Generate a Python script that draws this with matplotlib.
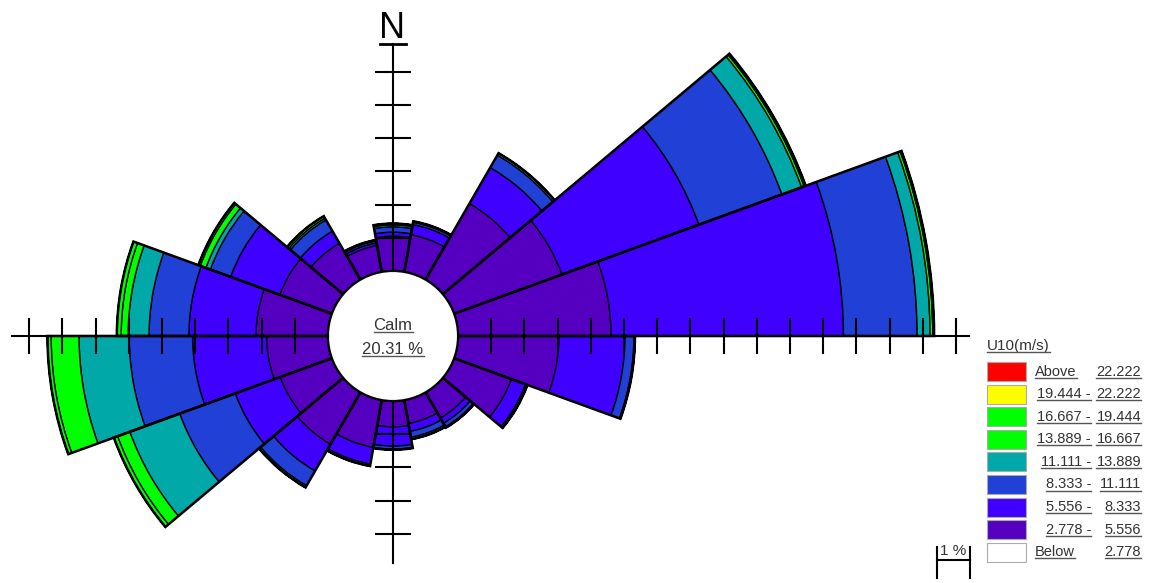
import numpy as np
import matplotlib
matplotlib.use("Agg")
from matplotlib import pyplot as plt
from matplotlib.patches import Circle, Rectangle
from matplotlib.lines import Line2D
from matplotlib.transforms import IdentityTransform

plt.rcParams['font.family'] = ['Liberation Sans', 'DejaVu Sans']

# sector centres (compass degrees), each sector 20 deg wide
directions = [0, 20, 40, 60, 80, 100, 120, 140, 160, 180,
              200, 220, 240, 260, 280, 300, 320, 340]

# frequency (%) per speed class, one value per direction
spd_2_5 = [1.05, 1.14, 2.65, 3.46, 4.61, 3.04, 1.84, 0.90, 0.72,
           0.78, 1.45, 1.81, 1.66, 1.85, 2.17, 1.67, 1.27, 0.81]
spd_5_8 = [0.12, 0.31, 1.25, 4.39, 7.00, 1.99, 0.45, 0.18, 0.24,
           0.58, 0.51, 0.93, 1.44, 2.23, 2.02, 1.58, 0.42, 0.08]
spd_8_11 = [0.16, 0.07, 0.43, 2.66, 2.22, 0.27, 0.06, 0.12, 0.18,
            0.09, 0.06, 0.51, 1.78, 1.91, 1.20, 0.65, 0.39, 0.06]
spd_11_14 = [0.06, 0.03, 0.07, 0.63, 0.39, 0.03, 0.00, 0.03, 0.06,
             0.02, 0.00, 0.06, 1.60, 1.51, 0.63, 0.14, 0.06, 0.03]
spd_14_17 = [0.04, 0.00, 0.00, 0.08, 0.08, 0.00, 0.00, 0.00, 0.00,
             0.00, 0.00, 0.00, 0.39, 0.84, 0.21, 0.18, 0.07, 0.00]
spd_17_19 = [0.00, 0.00, 0.00, 0.05, 0.04, 0.00, 0.00, 0.00, 0.00,
             0.00, 0.00, 0.00, 0.12, 0.11, 0.13, 0.06, 0.00, 0.00]
spd_19_22 = [0.00, 0.00, 0.00, 0.00, 0.00, 0.00, 0.00, 0.00, 0.00,
             0.00, 0.00, 0.00, 0.00, 0.00, 0.00, 0.00, 0.00, 0.00]
spd_above = [0.00, 0.00, 0.00, 0.00, 0.00, 0.00, 0.00, 0.00, 0.00,
             0.00, 0.00, 0.00, 0.00, 0.00, 0.00, 0.00, 0.00, 0.00]
calm = 20.31

series = [spd_2_5, spd_5_8, spd_8_11, spd_11_14, spd_14_17, spd_17_19, spd_19_22, spd_above]
colors = ['#5500c0', '#4000ff', '#2040d6', '#00a8a8', '#00ff00', '#00ff00', '#ffff00', '#ff0000']

# legend, top to bottom
class_lo = ['Above', '19.444', '16.667', '13.889', '11.111', '8.333', '5.556', '2.778', 'Below']
class_hi = ['22.222', '22.222', '19.444', '16.667', '13.889', '11.111', '8.333', '5.556', '2.778']
legend_colors = colors[::-1] + ['#ffffff']

W, H = 1153, 583
CX, CY = 393, 336          # rose centre in pixels
PX = 33.2                  # pixels per 1 %
HOLE = 65 / PX             # calm circle radius in % units
RMAX = 16.0

fig = plt.figure(figsize=(W / 100, H / 100), dpi=100)
R_px = (RMAX + HOLE) * PX
box = [(CX - R_px) / W, 1 - (CY + R_px) / H, 2 * R_px / W, 2 * R_px / H]

ax = fig.add_axes(box, projection='polar')
ax.set_theta_zero_location('N')
ax.set_theta_direction(-1)
ax.set_ylim(0, RMAX)
ax.set_rorigin(-HOLE)
ax.set_axis_off()

theta = np.deg2rad(directions)
width = np.deg2rad(20)
bottom = np.zeros(len(directions))
for vals, col in zip(series, colors):
    vals = np.array(vals)
    ax.bar(theta, vals, width=width, bottom=bottom, color=col,
           edgecolor='black', linewidth=1.0)
    bottom += vals
# outline of each sector
ax.bar(theta, bottom, width=width, bottom=0, fill=False, edgecolor='black', linewidth=1.8)

# overlay for compass cross, calm circle, scale bar
ov = fig.add_axes(box)
lim = RMAX + HOLE
ov.set_xlim(-lim, lim)
ov.set_ylim(-lim, lim)
ov.set_axis_off()
ov.patch.set_visible(False)

ov.add_patch(Circle((0, 0), HOLE, facecolor='white', edgecolor='black', lw=1.5, zorder=3))

lw_ax = 1.5
tk = 0.52
arms = [(1, 0, 17.35, 15), (-1, 0, 11.48, 9), (0, 1, 8.80, 6), (0, -1, 6.84, 4)]
for dx, dy, length, nt in arms:
    ov.plot([dx * HOLE, dx * length], [dy * HOLE, dy * length], color='black', lw=lw_ax, zorder=4)
    for k in range(1, nt + 1):
        p = HOLE + k
        if dx != 0:
            ov.plot([dx * p, dx * p], [-tk, tk], color='black', lw=lw_ax, zorder=4)
        else:
            ov.plot([-tk, tk], [dy * p, dy * p], color='black', lw=lw_ax, zorder=4)
# cap at the north end
ov.plot([-0.38, 0.38], [8.80, 8.80], color='black', lw=2.0, zorder=4)

t_calm = ov.text(0, 0.33, 'Calm', ha='center', va='center', fontsize=12, color='#333333', zorder=5)
t_pct = ov.text(0, -0.40, f'{calm:.2f} %', ha='center', va='center', fontsize=12, color='#333333', zorder=5)

# scale bar: 1 %
sx0 = (937 - CX) / PX
sy = -(560 - CY) / PX
ov.plot([sx0, sx0 + 1], [sy, sy], color='black', lw=1.5, clip_on=False)
for xx in (sx0, sx0 + 1):
    ov.plot([xx, xx], [-(547 - CY) / PX, -(578 - CY) / PX], color='black', lw=1.5, clip_on=False)
t_scale = ov.text(sx0 + 0.5, -(551 - CY) / PX, '1 %', ha='center', va='center', fontsize=11,
                  color='#333333', clip_on=False)

# pixel-space axes for legend and labels
lg = fig.add_axes([0, 0, 1, 1])
lg.set_xlim(0, W)
lg.set_ylim(H, 0)
lg.set_axis_off()
lg.patch.set_visible(False)

lg.text(392, 38, 'N', ha='center', va='baseline', fontsize=26, color='black')

texts = [t_calm, t_pct]
texts.append(lg.text(987, 346, 'U10(m/s)', ha='left', va='center', fontsize=11, color='#333333'))
for i, (lo, hi, col) in enumerate(zip(class_lo, class_hi, legend_colors)):
    y0 = 362 + i * 22.6
    yc = y0 + 9.5
    lg.add_patch(Rectangle((987, y0), 39, 19, facecolor=col, edgecolor='#aaaaaa', lw=0.8))
    if lo in ('Above', 'Below'):
        texts.append(lg.text(1035, yc, lo, ha='left', va='center', fontsize=10.5, color='#333333'))
    else:
        texts.append(lg.text(1091, yc, lo + ' -', ha='right', va='center', fontsize=10.5, color='#333333'))
    texts.append(lg.text(1141, yc, hi, ha='right', va='center', fontsize=10.5, color='#333333'))

fig.canvas.draw()
renderer = fig.canvas.get_renderer()
for t in texts:
    bb = t.get_window_extent(renderer)
    fig.add_artist(Line2D([bb.x0, bb.x1], [bb.y0 + 1, bb.y0 + 1], transform=IdentityTransform(),
                          color='#555555', lw=1.0))

fig.savefig('out.png', dpi=100)
